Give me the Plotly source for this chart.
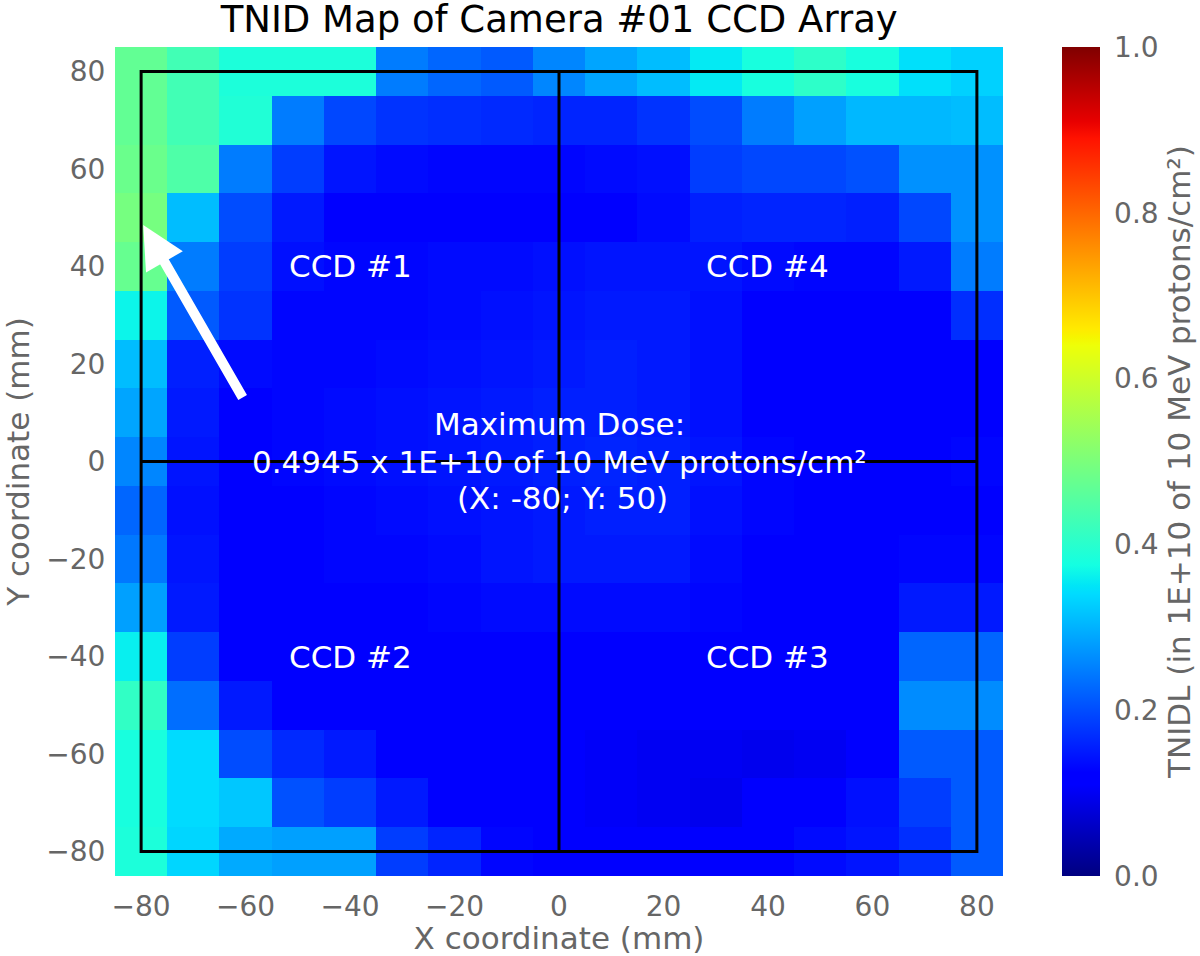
import plotly.graph_objects as go

x_mm = [-80, -70, -60, -50, -40, -30, -20, -10, 0, 10, 20, 30, 40, 50, 60, 70, 80]
y_mm = [80, 70, 60, 50, 40, 30, 20, 10, 0, -10, -20, -30, -40, -50, -60, -70, -80]

row_p80 = [.47, .43, .385, .385, .385, .247, .225, .213, .257, .287, .311, .355, .38, .405, .38, .345, .33]
row_p70 = [.47, .43, .39, .247, .195, .175, .17, .165, .16, .16, .175, .2, .247, .282, .306, .306, .311]
row_p60 = [.48, .445, .247, .185, .145, .135, .13, .13, .13, .135, .14, .185, .195, .195, .205, .267, .267]
row_p50 = [.4945, .311, .2, .15, .125, .12, .12, .125, .125, .125, .135, .155, .16, .16, .155, .195, .267]
row_p40 = [.475, .247, .185, .14, .13, .13, .135, .135, .14, .145, .145, .145, .135, .13, .13, .15, .247]
row_p30 = [.365, .213, .175, .13, .13, .13, .135, .14, .145, .15, .15, .14, .12, .12, .12, .125, .17]
row_p20 = [.311, .155, .135, .13, .13, .135, .14, .145, .15, .155, .15, .14, .12, .12, .12, .12, .12]
row_p10 = [.287, .15, .125, .13, .135, .14, .145, .15, .155, .155, .15, .14, .125, .12, .12, .12, .12]
row_0 = [.257, .145, .125, .13, .135, .14, .145, .15, .155, .16, .155, .145, .13, .125, .12, .125, .13]
row_m10 = [.225, .14, .12, .125, .13, .135, .14, .145, .15, .155, .155, .14, .13, .125, .12, .125, .125]
row_m20 = [.243, .145, .125, .125, .13, .13, .135, .145, .15, .15, .15, .135, .125, .12, .12, .13, .13]
row_m30 = [.282, .15, .12, .12, .125, .125, .13, .135, .135, .135, .135, .13, .12, .12, .12, .15, .15]
row_m40 = [.36, .185, .125, .12, .12, .12, .125, .125, .125, .125, .125, .12, .12, .12, .12, .225, .225]
row_m50 = [.41, .233, .15, .12, .12, .12, .12, .115, .115, .115, .115, .115, .115, .115, .125, .262, .262]
row_m60 = [.38, .34, .2, .165, .15, .125, .12, .115, .115, .105, .1, .1, .095, .1, .12, .213, .213]
row_m70 = [.38, .34, .32, .205, .185, .15, .125, .115, .115, .105, .1, .095, .11, .12, .14, .185, .213]
row_m80 = [.385, .335, .292, .282, .282, .185, .16, .13, .12, .115, .115, .115, .115, .135, .145, .17, .213]

tnidl = [
    row_p80, row_p70, row_p60, row_p50, row_p40, row_p30, row_p20, row_p10, row_0,
    row_m10, row_m20, row_m30, row_m40, row_m50, row_m60, row_m70, row_m80,
]

tick_vals = [-80, -60, -40, -20, 0, 20, 40, 60, 80]
cbar_ticks = [0.0, 0.2, 0.4, 0.6, 0.8, 1.0]

ccd_labels = ["CCD #1", "CCD #2", "CCD #3", "CCD #4"]
ccd_x = [-40, -40, 40, 40]
ccd_y = [40, -40, -40, 40]

dose_lines = [
    "Maximum Dose:",
    "0.4945 x 1E+10 of 10 MeV protons/cm²",
    "(X: -80; Y: 50)",
]
dose_x = [0, 0, 0.6]
dose_y = [7.6, 0, -7.4]

# matplotlib jet
jet = [
    [0.0, "rgb(0,0,128)"],
    [0.11, "rgb(0,0,255)"],
    [0.125, "rgb(0,0,255)"],
    [0.34, "rgb(0,219,255)"],
    [0.35, "rgb(0,229,247)"],
    [0.375, "rgb(20,255,226)"],
    [0.64, "rgb(238,255,8)"],
    [0.65, "rgb(246,245,0)"],
    [0.66, "rgb(255,234,0)"],
    [0.89, "rgb(255,18,0)"],
    [0.91, "rgb(232,0,0)"],
    [1.0, "rgb(128,0,0)"],
]

FONT = "DejaVu Sans"
GREY = "#666666"

fig = go.Figure()

fig.add_trace(
    go.Heatmap(
        x=x_mm,
        y=y_mm,
        z=tnidl,
        zmin=0,
        zmax=1,
        colorscale=jet,
        colorbar=dict(
            x=1.0665,
            xanchor="left",
            xpad=0,
            ypad=0,
            y=0.5,
            len=1,
            thickness=38,
            outlinewidth=0,
            ticks="outside",
            ticklen=9,
            tickcolor="rgba(0,0,0,0)",
            tickvals=cbar_ticks,
            tickformat=".1f",
            tickfont=dict(family=FONT, size=28, color=GREY),
            title=dict(
                text="TNIDL (in 1E+10 of 10 MeV protons/cm²)",
                side="right",
                font=dict(family=FONT, size=31, color=GREY),
            ),
        ),
    )
)

# CCD outline and the gaps between the chips
fig.add_shape(type="rect", x0=-80, x1=80, y0=-80, y1=80, line=dict(color="black", width=3))
fig.add_shape(type="line", x0=0, x1=0, y0=-80, y1=80, line=dict(color="black", width=3))
fig.add_shape(type="line", x0=-80, x1=80, y0=0, y1=0, line=dict(color="black", width=3))

for label, cx, cy in zip(ccd_labels, ccd_x, ccd_y):
    fig.add_annotation(x=cx, y=cy, text=label, showarrow=False, font=dict(family=FONT, size=31, color="white"))

for line, lx, ly in zip(dose_lines, dose_x, dose_y):
    fig.add_annotation(x=lx, y=ly, text=line, showarrow=False, font=dict(family=FONT, size=31, color="white"))

# arrow to the hottest cell
fig.add_annotation(
    x=-79.6,
    y=48.5,
    ax=-60.4,
    ay=12.8,
    xref="x",
    yref="y",
    axref="x",
    ayref="y",
    text="",
    showarrow=True,
    arrowhead=2,
    arrowsize=0.85,
    arrowwidth=10,
    arrowcolor="white",
)

fig.update_xaxes(
    range=[-85, 85],
    tickvals=tick_vals,
    showgrid=False,
    zeroline=False,
    ticks="outside",
    ticklen=5,
    tickcolor="rgba(0,0,0,0)",
    tickfont=dict(family=FONT, size=28, color=GREY),
    title=dict(text="X coordinate (mm)", standoff=13, font=dict(family=FONT, size=31, color=GREY)),
)
fig.update_yaxes(
    range=[-85, 85],
    tickvals=tick_vals,
    showgrid=False,
    zeroline=False,
    ticks="outside",
    ticklen=3,
    tickcolor="rgba(0,0,0,0)",
    tickfont=dict(family=FONT, size=28, color=GREY),
    title=dict(text="Y coordinate (mm)", standoff=20, font=dict(family=FONT, size=31, color=GREY)),
)

fig.update_layout(
    width=1200,
    height=956,
    margin=dict(l=115, r=197, t=47, b=80, autoexpand=False),
    paper_bgcolor="white",
    plot_bgcolor="white",
    title=dict(
        text="TNID Map of Camera #01 CCD Array",
        x=0.466,
        xanchor="center",
        y=0.98,
        yanchor="middle",
        font=dict(family=FONT, size=37, color="black"),
    ),
)

# the page's default body margin would push the figure 8px off
fig.write_html(
    "out.html",
    config={"displayModeBar": False},
    post_script="document.body.style.margin = '0';",
)
